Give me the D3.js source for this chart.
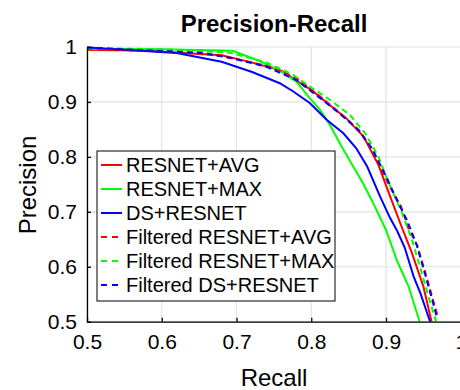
<!DOCTYPE html>
<html>
<head>
<meta charset="utf-8">
<script src="https://cdn.jsdelivr.net/npm/d3@7"></script>
<style>
  body { margin: 0; background: #fff; }
  svg { display: block; font-family: "Liberation Sans", Arial, Helvetica, sans-serif; }
</style>
</head>
<body>
<svg width="460" height="390"></svg>
<script>
// series: recall (x) and precision (y)
var names = ["RESNET+AVG", "RESNET+MAX", "DS+RESNET",
             "Filtered RESNET+AVG", "Filtered RESNET+MAX", "Filtered DS+RESNET"];
var colors = ["#ff0000", "#00ff00", "#0000ff", "#ff0000", "#00ff00", "#0000ff"];
var dashed = [false, false, false, true, true, true];

var avgRecall = [0.5, 0.58, 0.68, 0.72, 0.76, 0.78, 0.80, 0.825, 0.847, 0.87, 0.89, 0.905, 0.92, 0.935, 0.95, 0.961];
var avgPrec   = [0.995, 0.993, 0.985, 0.972, 0.957, 0.939, 0.922, 0.894, 0.870, 0.837, 0.785, 0.73, 0.676, 0.624, 0.564, 0.5];

var maxRecall = [0.5, 0.6, 0.695, 0.73, 0.76, 0.78, 0.798, 0.812, 0.825, 0.841, 0.855, 0.87, 0.885, 0.9, 0.915, 0.93, 0.945];
var maxPrec   = [0.997, 0.996, 0.993, 0.975, 0.955, 0.937, 0.907, 0.885, 0.858, 0.818, 0.785, 0.75, 0.71, 0.667, 0.61, 0.565, 0.5];

var dsRecall = [0.5, 0.62, 0.68, 0.72, 0.758, 0.776, 0.798, 0.821, 0.843, 0.86, 0.875, 0.892, 0.905, 0.915, 0.925, 0.937, 0.946, 0.959];
var dsPrec   = [0.999, 0.989, 0.973, 0.955, 0.934, 0.919, 0.898, 0.867, 0.843, 0.816, 0.782, 0.728, 0.69, 0.665, 0.635, 0.582, 0.552, 0.5];

var fAvgRecall = [0.5, 0.6, 0.68, 0.74, 0.78, 0.81, 0.84, 0.865, 0.885, 0.905, 0.92, 0.93, 0.942, 0.955, 0.969];
var fAvgPrec   = [0.996, 0.993, 0.984, 0.966, 0.944, 0.912, 0.878, 0.847, 0.803, 0.746, 0.71, 0.67, 0.638, 0.578, 0.51];

var fMaxRecall = [0.5, 0.6, 0.69, 0.74, 0.775, 0.798, 0.825, 0.852, 0.872, 0.89, 0.905, 0.92, 0.935, 0.948, 0.958, 0.967];
var fMaxPrec   = [0.998, 0.996, 0.99, 0.972, 0.95, 0.928, 0.904, 0.876, 0.843, 0.80, 0.748, 0.703, 0.648, 0.588, 0.54, 0.5];

var fDsRecall = [0.5, 0.656, 0.696, 0.74, 0.78, 0.812, 0.838, 0.863, 0.881, 0.9, 0.915, 0.928, 0.941, 0.9545, 0.968];
var fDsPrec   = [0.999, 0.989, 0.979, 0.964, 0.94, 0.907, 0.879, 0.849, 0.816, 0.765, 0.72, 0.685, 0.640, 0.576, 0.509];

var recalls = [avgRecall, maxRecall, dsRecall, fAvgRecall, fMaxRecall, fDsRecall];
var precs   = [avgPrec, maxPrec, dsPrec, fAvgPrec, fMaxPrec, fDsPrec];

var xTicks = [0.5, 0.6, 0.7, 0.8, 0.9, 1];
var yTicks = [0.5, 0.6, 0.7, 0.8, 0.9, 1];

var svg = d3.select("svg");
var mLeft = 87, mTop = 47, mRight = 460.75, mBottom = 321.7;

var x = d3.scaleLinear().domain([0.5, 1]).range([mLeft, mRight]);
var y = d3.scaleLinear().domain([0.5, 1]).range([mBottom, mTop]);

// grid
svg.append("g").selectAll("line").data(xTicks).enter().append("line")
    .attr("x1", function(d) { return x(d); }).attr("x2", function(d) { return x(d); })
    .attr("y1", mTop).attr("y2", mBottom)
    .attr("stroke", "#e3e3e3").attr("stroke-width", 1.2);
svg.append("g").selectAll("line").data(yTicks).enter().append("line")
    .attr("x1", mLeft).attr("x2", mRight)
    .attr("y1", function(d) { return y(d); }).attr("y2", function(d) { return y(d); })
    .attr("stroke", "#e3e3e3").attr("stroke-width", 1.2);

svg.append("clipPath").attr("id", "plot")
  .append("rect").attr("x", mLeft).attr("y", mTop - 3).attr("width", mRight - mLeft + 3).attr("height", mBottom - mTop + 3);

var line = d3.line()
    .x(function(d) { return x(d[0]); })
    .y(function(d) { return y(d[1]); });

var lines = svg.append("g").attr("clip-path", "url(#plot)");
names.forEach(function(n, i) {
    var pts = recalls[i].map(function(r, j) { return [r, precs[i][j]]; });
    lines.append("path")
        .attr("d", line(pts))
        .attr("fill", "none")
        .attr("stroke", colors[i])
        .attr("stroke-width", 2)
        .attr("stroke-dasharray", dashed[i] ? "6,4" : null);
});

// axes
var xAxis = d3.axisBottom(x).tickValues(xTicks).tickSizeInner(-4).tickSizeOuter(0)
    .tickFormat(d3.format("~g")).tickPadding(12);
var yAxis = d3.axisLeft(y).tickValues(yTicks).tickSizeInner(-4).tickSizeOuter(0)
    .tickFormat(d3.format("~g")).tickPadding(10);

var gx = svg.append("g").attr("transform", "translate(0," + mBottom + ")").call(xAxis);
var gy = svg.append("g").attr("transform", "translate(" + mLeft + ",0)").call(yAxis);
[gx, gy].forEach(function(g) {
    g.select(".domain").attr("stroke", "#000").attr("stroke-width", 1.3);
    g.selectAll(".tick line").attr("stroke", "#000").attr("stroke-width", 1.3);
    g.selectAll(".tick text").attr("fill", "#000")
        .style("font-size", "21px")
        .style("font-family", "'Liberation Sans', Arial, Helvetica, sans-serif");
});

// titles
svg.append("text").attr("x", 274).attr("y", 32)
    .attr("text-anchor", "middle").style("font-size", "24px").style("font-weight", "bold")
    .text("Precision-Recall");
svg.append("text").attr("x", 274).attr("y", 386)
    .attr("text-anchor", "middle").style("font-size", "24px")
    .text("Recall");
svg.append("text").attr("transform", "translate(36,185) rotate(-90)")
    .attr("text-anchor", "middle").style("font-size", "24px")
    .text("Precision");

// legend
var leg = svg.append("g");
leg.append("rect").attr("x", 97).attr("y", 151).attr("width", 238).attr("height", 150)
    .attr("fill", "#fff").attr("stroke", "#000").attr("stroke-width", 1);
names.forEach(function(n, i) {
    var yy = 165 + i * 24;
    leg.append("line").attr("x1", 101).attr("x2", 122).attr("y1", yy).attr("y2", yy)
        .attr("stroke", colors[i]).attr("stroke-width", 2)
        .attr("stroke-dasharray", dashed[i] ? "6,5" : null);
    leg.append("text").attr("x", 126).attr("y", yy + 7)
        .style("font-size", "20px").text(n);
});
</script>
</body>
</html>
